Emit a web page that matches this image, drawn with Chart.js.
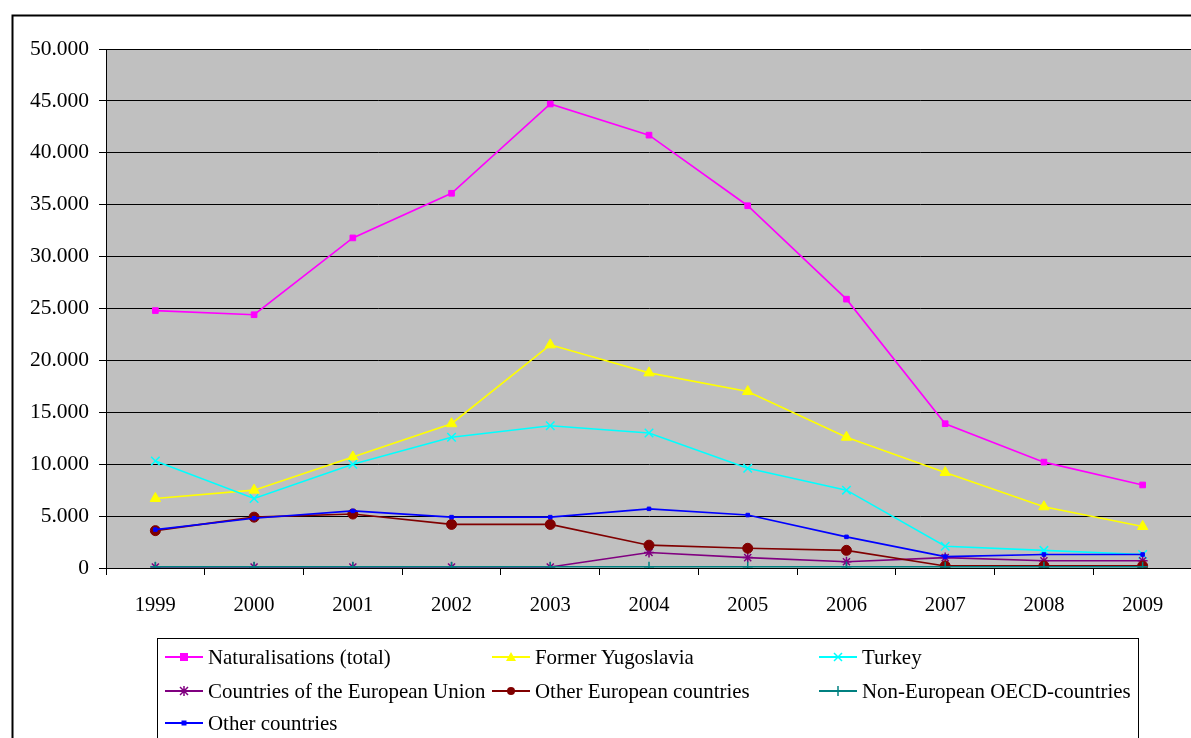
<!DOCTYPE html>
<html>
<head>
<meta charset="utf-8">
<script src="https://cdn.jsdelivr.net/npm/chart.js@4/dist/chart.umd.min.js"></script>
<style>
  html, body { margin:0; padding:0; width:1191px; height:738px; overflow:hidden; background:#fff; }
  #wrap { position:absolute; left:0; top:0; width:1230px; height:738px; }
  #legend { position:absolute; left:157px; top:638px; width:982px; height:130px; border:1px solid #000; box-sizing:border-box; font-family:"Liberation Serif", "Times New Roman", serif; font-size:20.9px; color:#000; }
  .item { position:absolute; height:24px; display:flex; align-items:center; white-space:nowrap; }
  .item svg { margin-right:5px; }
</style>
</head>
<body>
<div id="wrap"><canvas id="c" width="1230" height="738"></canvas></div>
<div id="legend"></div>
<script>
const years = ["1999","2000","2001","2002","2003","2004","2005","2006","2007","2008","2009"];
const naturalisations = [24800, 24400, 31800, 36100, 44700, 41700, 34900, 25900, 13900, 10200, 8000];
const formerYugoslavia = [6700, 7500, 10700, 13900, 21500, 18800, 17000, 12600, 9200, 5900, 4000];
const turkey = [10300, 6700, 10000, 12600, 13700, 13000, 9600, 7500, 2100, 1700, 1300];
const euCountries = [100, 100, 100, 100, 100, 1500, 1000, 600, 1000, 700, 700];
const otherEuropean = [3600, 4900, 5200, 4200, 4200, 2200, 1900, 1700, 200, 200, 200];
const nonEuropeanOECD = [120, 120, 120, 120, 120, 120, 120, 120, 120, 120, 120];
const otherCountries = [3700, 4800, 5500, 4900, 4900, 5700, 5100, 3000, 1100, 1300, 1300];
const yTicks = [0, 5000, 10000, 15000, 20000, 25000, 30000, 35000, 40000, 45000, 50000];

const seriesDefs = [
  { label: "Naturalisations (total)", data: naturalisations, color: "#FF00FF", style: "rect", r: 4 },
  { label: "Former Yugoslavia", data: formerYugoslavia, color: "#FFFF00", style: "triangle", r: 6 },
  { label: "Turkey", data: turkey, color: "#00FFFF", style: "crossRot", r: 6 },
  { label: "Countries of the European Union", data: euCountries, color: "#800080", style: "star", r: 5 },
  { label: "Other European countries", data: otherEuropean, color: "#800000", style: "circle", r: 5 },
  { label: "Non-European OECD-countries", data: nonEuropeanOECD, color: "#008080", style: "cross", r: 5 },
  { label: "Other countries", data: otherCountries, color: "#0000FF", style: "rect", r: 2.5 }
];

const fmt = v => String(v).replace(/\B(?=(\d{3})+(?!\d))/g, ".");

const bgPlugin = {
  id: "bg",
  beforeDraw(chart) {
    const ctx = chart.ctx, a = chart.chartArea;
    ctx.save();
    ctx.fillStyle = "#fff";
    ctx.fillRect(0, 0, chart.width, chart.height);
    ctx.strokeStyle = "#000";
    ctx.lineWidth = 2;
    ctx.strokeRect(12.5, 15.5, 1250, 800);
    ctx.fillStyle = "#C0C0C0";
    ctx.fillRect(a.left, a.top, a.right - a.left, a.bottom - a.top);
    ctx.strokeStyle = "#808080";
    ctx.lineWidth = 1;
    ctx.strokeRect(a.left + 0.5, a.top + 0.5, a.right - a.left, a.bottom - a.top);
    ctx.restore();
  }
};

const chart = new Chart(document.getElementById("c"), {
  type: "line",
  data: {
    labels: years,
    datasets: seriesDefs.map((s, i) => ({
      label: s.label,
      data: s.data,
      borderColor: s.color,
      backgroundColor: s.color,
      borderWidth: 1.6,
      pointStyle: s.style,
      pointRadius: s.r,
      pointBorderColor: s.color,
      pointBackgroundColor: s.color,
      pointBorderWidth: (s.style === "crossRot" || s.style === "star" || s.style === "cross") ? 1.5 : 1,
      tension: 0,
      fill: false,
      order: seriesDefs.length - i
    }))
  },
  options: {
    responsive: false,
    animation: false,
    devicePixelRatio: 1,
    layout: { padding: { left: 0, top: 49, right: 38, bottom: 0 } },
    plugins: { legend: { display: false }, tooltip: { enabled: false } },
    scales: {
      x: {
        offset: true,
        afterFit(scale) { scale.height = 170; },
        grid: { offset: true, drawOnChartArea: false, drawTicks: true, tickLength: 7, color: "#000", lineWidth: 1 },
        border: { display: true, color: "#000", width: 1 },
        ticks: { color: "#000", font: { family: "'Liberation Serif', 'Times New Roman', serif", size: 20.5 }, padding: 18, maxRotation: 0, autoSkip: false }
      },
      y: {
        min: 0, max: 50000,
        afterFit(scale) { scale.width = 106; },
        afterBuildTicks(scale) { scale.ticks = yTicks.map(v => ({ value: v })); },
        grid: { color: "#000", lineWidth: 1, drawTicks: true, tickLength: 7 },
        border: { display: true, color: "#000", width: 1 },
        ticks: { color: "#000", font: { family: "'Liberation Serif', 'Times New Roman', serif", size: 21.5 }, padding: 10, callback: v => fmt(v) }
      }
    }
  },
  plugins: [bgPlugin]
});

const legend = document.getElementById("legend");
const cols = [165, 492, 819];
const rows = [657, 691, 723];
function markerSvg(s) {
  const c = s.color;
  let m = "";
  const cx = 19, cy = 10;
  if (s.style === "rect") {
    const h = s.r < 3 ? 2.5 : 4;
    m = `<rect x="${cx-h}" y="${cy-h}" width="${2*h}" height="${2*h}" fill="${c}"/>`;
  } else if (s.style === "triangle") {
    m = `<polygon points="${cx},${cy-5} ${cx+5},${cy+4} ${cx-5},${cy+4}" fill="${c}"/>`;
  } else if (s.style === "crossRot") {
    m = `<path d="M${cx-4} ${cy-4}L${cx+4} ${cy+4}M${cx+4} ${cy-4}L${cx-4} ${cy+4}" stroke="${c}" stroke-width="1.5"/>`;
  } else if (s.style === "star") {
    m = `<path d="M${cx-4} ${cy-4}L${cx+4} ${cy+4}M${cx+4} ${cy-4}L${cx-4} ${cy+4}M${cx} ${cy-5}L${cx} ${cy+5}" stroke="${c}" stroke-width="1.5"/>`;
  } else if (s.style === "circle") {
    m = `<circle cx="${cx}" cy="${cy}" r="4" fill="${c}"/>`;
  } else if (s.style === "cross") {
    m = `<path d="M${cx} ${cy-5}L${cx} ${cy+5}" stroke="${c}" stroke-width="1.5"/>`;
  }
  return `<svg width="38" height="20" viewBox="0 0 38 20"><line x1="0" y1="10" x2="38" y2="10" stroke="${c}" stroke-width="2"/>${m}</svg>`;
}
seriesDefs.forEach((s, i) => {
  const d = document.createElement("div");
  d.className = "item";
  d.style.left = (cols[i % 3] - 157 - 1) + "px";
  d.style.top = (rows[Math.floor(i / 3)] - 638 - 1 - 12) + "px";
  d.innerHTML = markerSvg(s) + `<span>${s.label}</span>`;
  legend.appendChild(d);
});
</script>
</body>
</html>
